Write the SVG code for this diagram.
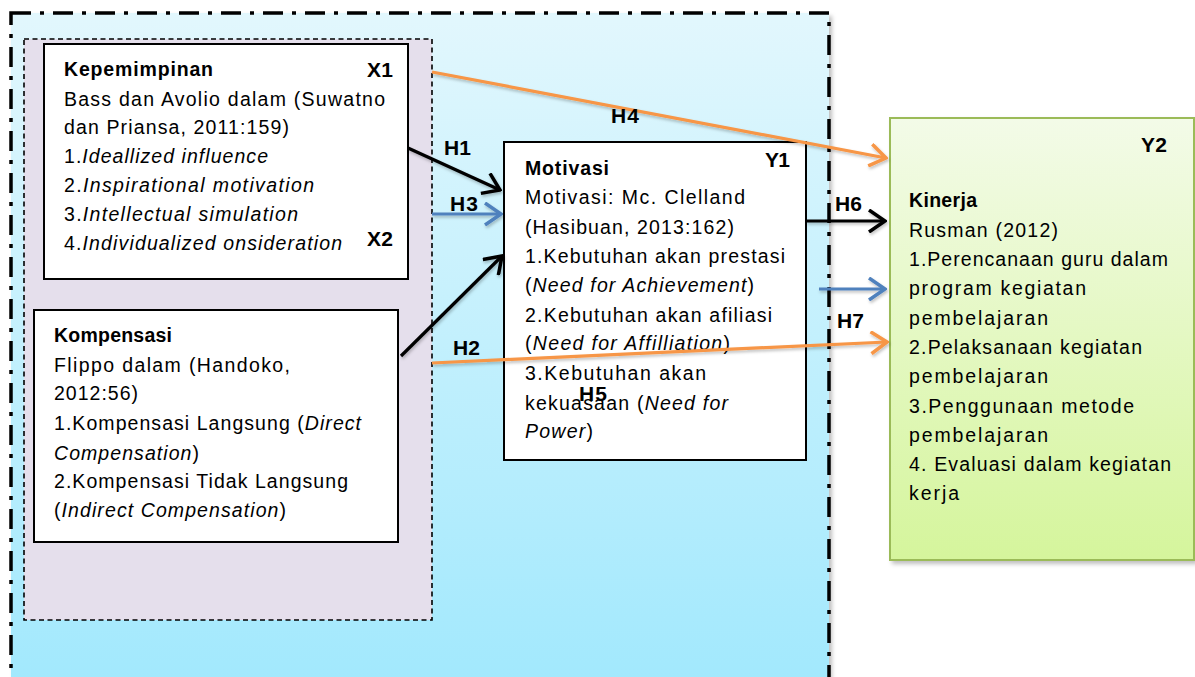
<svg xmlns="http://www.w3.org/2000/svg" width="1195" height="677" viewBox="0 0 1195 677">
<defs>
<linearGradient id="gFrame" x1="0" y1="0" x2="0" y2="1">
<stop offset="0" stop-color="#e2f7fd"/>
<stop offset="1" stop-color="#9fe8fd"/>
</linearGradient>
<linearGradient id="gGreen" x1="0" y1="0" x2="0" y2="1">
<stop offset="0" stop-color="#f3fbe8"/>
<stop offset="1" stop-color="#d5f59c"/>
</linearGradient>
<filter id="sh" x="-5%" y="-5%" width="115%" height="115%">
<feDropShadow dx="3" dy="3" stdDeviation="2" flood-color="#000" flood-opacity="0.25"/>
</filter>
<filter id="lsh" filterUnits="userSpaceOnUse" x="0" y="0" width="1195" height="677">
<feDropShadow dx="1" dy="2" stdDeviation="1.5" flood-color="#000" flood-opacity="0.25"/>
</filter>
<marker id="aO" viewBox="0 0 20 24" refX="18" refY="12" markerWidth="20" markerHeight="24" markerUnits="userSpaceOnUse" orient="auto">
<path d="M2,1 L18,12 L2,23" fill="none" stroke="#f79646" stroke-width="3.5"/>
</marker>
<marker id="aK" viewBox="0 0 20 24" refX="18" refY="12" markerWidth="20" markerHeight="24" markerUnits="userSpaceOnUse" orient="auto">
<path d="M2,1 L18,12 L2,23" fill="none" stroke="#000" stroke-width="3.5"/>
</marker>
<marker id="aB" viewBox="0 0 20 24" refX="18" refY="12" markerWidth="20" markerHeight="24" markerUnits="userSpaceOnUse" orient="auto">
<path d="M2,1 L18,12 L2,23" fill="none" stroke="#4f81bd" stroke-width="3.5"/>
</marker>
</defs>
<style>
.t{font-family:"Liberation Sans",Arial,sans-serif;font-size:19.5px;fill:#000}
.b{font-weight:bold}
.i{font-style:italic}
.h{font-family:"Liberation Sans",Arial,sans-serif;font-size:21px;font-weight:bold;fill:#000}
.box{fill:#fff;stroke:#000;stroke-width:2}
.c{fill:none;stroke-width:3.2}
</style>
<rect width="1195" height="677" fill="#fff"/>

<g id="frame">
<rect x="11" y="13" width="818" height="700" fill="url(#gFrame)" filter="url(#sh)"/>
<rect x="11" y="13" width="818" height="700" fill="none" stroke="#000" stroke-width="3.5" stroke-dasharray="20 9 4 9"/>
</g>

<g id="group-x">
<rect x="24" y="39" width="408" height="581" fill="#e5dfec" stroke="#000" stroke-width="1.6" stroke-dasharray="5 3.5"/>
</g>

<g id="kepemimpinan">
<rect class="box" x="44" y="44" width="364" height="235"/>
<text class="t b" x="64" y="76" textLength="149">Kepemimpinan</text>
<text class="h" x="367" y="77" textLength="26">X1</text>
<text class="t" x="64" y="106" textLength="321">Bass dan Avolio dalam (Suwatno</text>
<text class="t" x="64" y="134" textLength="225">dan Priansa, 2011:159)</text>
<text class="t" x="64" y="163" textLength="204">1.<tspan class="i">Ideallized influence</tspan></text>
<text class="t" x="64" y="192" textLength="250">2.<tspan class="i">Inspirational motivation</tspan></text>
<text class="t" x="64" y="221" textLength="234">3.<tspan class="i">Intellectual simulation</tspan></text>
<text class="t" x="64" y="250" textLength="278">4.<tspan class="i">Individualized onsideration</tspan></text>
<text class="h" x="367" y="246" textLength="26">X2</text>
</g>

<g id="kompensasi">
<rect class="box" x="34" y="310" width="364" height="232"/>
<text class="t b" x="54" y="342" textLength="118">Kompensasi</text>
<text class="t" x="54" y="372" textLength="236">Flippo dalam (Handoko,</text>
<text class="t" x="54" y="400" textLength="84">2012:56)</text>
<text class="t" x="54" y="430" textLength="307">1.Kompensasi Langsung (<tspan class="i">Direct</tspan></text>
<text class="t" x="54" y="460" textLength="145"><tspan class="i">Compensation</tspan>)</text>
<text class="t" x="54" y="488" textLength="294">2.Kompensasi Tidak Langsung</text>
<text class="t" x="54" y="517" textLength="232">(<tspan class="i">Indirect Compensation</tspan>)</text>
</g>

<g id="motivasi">
<rect class="box" x="504" y="142" width="302" height="318"/>
<text class="t b" x="525" y="175" textLength="84">Motivasi</text>
<text class="h" x="765" y="167" textLength="25">Y1</text>
<text class="t" x="525" y="204" textLength="220">Motivasi: Mc. Clelland</text>
<text class="t" x="525" y="234" textLength="209">(Hasibuan, 2013:162)</text>
<text class="t" x="525" y="263" textLength="260">1.Kebutuhan akan prestasi</text>
<text class="t" x="525" y="292" textLength="229">(<tspan class="i">Need for Achievement</tspan>)</text>
<text class="t" x="525" y="322" textLength="247">2.Kebutuhan akan afiliasi</text>
<text class="t" x="525" y="350" textLength="205">(<tspan class="i">Need for Affilliation</tspan>)</text>
<text class="t" x="525" y="380" textLength="181">3.Kebutuhan akan</text>
<text class="t" x="525" y="410" textLength="203">kekuasaan (<tspan class="i">Need for</tspan></text>
<text class="t" x="525" y="438" textLength="68"><tspan class="i">Power</tspan>)</text>
</g>

<g id="kinerja">
<rect x="890" y="118" width="304" height="442" fill="url(#gGreen)" stroke="#9bbb59" stroke-width="2" filter="url(#sh)"/>
<text class="h" x="1141" y="152" textLength="26">Y2</text>
<text class="t b" x="909" y="207" textLength="68">Kinerja</text>
<text class="t" x="909" y="237" textLength="149">Rusman (2012)</text>
<text class="t" x="909" y="266" textLength="259">1.Perencanaan guru dalam</text>
<text class="t" x="909" y="295" textLength="177">program kegiatan</text>
<text class="t" x="909" y="325" textLength="139">pembelajaran</text>
<text class="t" x="909" y="354" textLength="233">2.Pelaksanaan kegiatan</text>
<text class="t" x="909" y="383" textLength="139">pembelajaran</text>
<text class="t" x="909" y="413" textLength="225">3.Penggunaan metode</text>
<text class="t" x="909" y="442" textLength="139">pembelajaran</text>
<text class="t" x="909" y="471" textLength="262">4. Evaluasi dalam kegiatan</text>
<text class="t" x="909" y="500" textLength="50">kerja</text>
</g>

<g id="connectors">
<g filter="url(#lsh)">
<line class="c" x1="432" y1="72" x2="886" y2="158" stroke="#f79646" marker-end="url(#aO)"/>
<line class="c" x1="408" y1="148" x2="500" y2="190" stroke="#000" marker-end="url(#aK)"/>
<line class="c" x1="432" y1="214" x2="501" y2="214" stroke="#4f81bd" marker-end="url(#aB)"/>
<line class="c" x1="401" y1="356" x2="502" y2="256" stroke="#000" marker-end="url(#aK)"/>
<line class="c" x1="432" y1="363" x2="887" y2="342" stroke="#f79646" marker-end="url(#aO)"/>
<line class="c" x1="806" y1="221" x2="885" y2="221" stroke="#000" marker-end="url(#aK)"/>
<line class="c" x1="819" y1="289" x2="885" y2="289" stroke="#4f81bd" marker-end="url(#aB)"/>
</g>
<text class="h" x="444" y="155" textLength="27">H1</text>
<text class="h" x="450" y="211" textLength="28">H3</text>
<text class="h" x="453" y="355" textLength="27">H2</text>
<text class="h" x="611" y="123" textLength="28">H4</text>
<text class="h" x="579" y="401" textLength="28">H5</text>
<text class="h" x="835" y="211" textLength="27">H6</text>
<text class="h" x="837" y="328" textLength="27">H7</text>
</g>
</svg>
